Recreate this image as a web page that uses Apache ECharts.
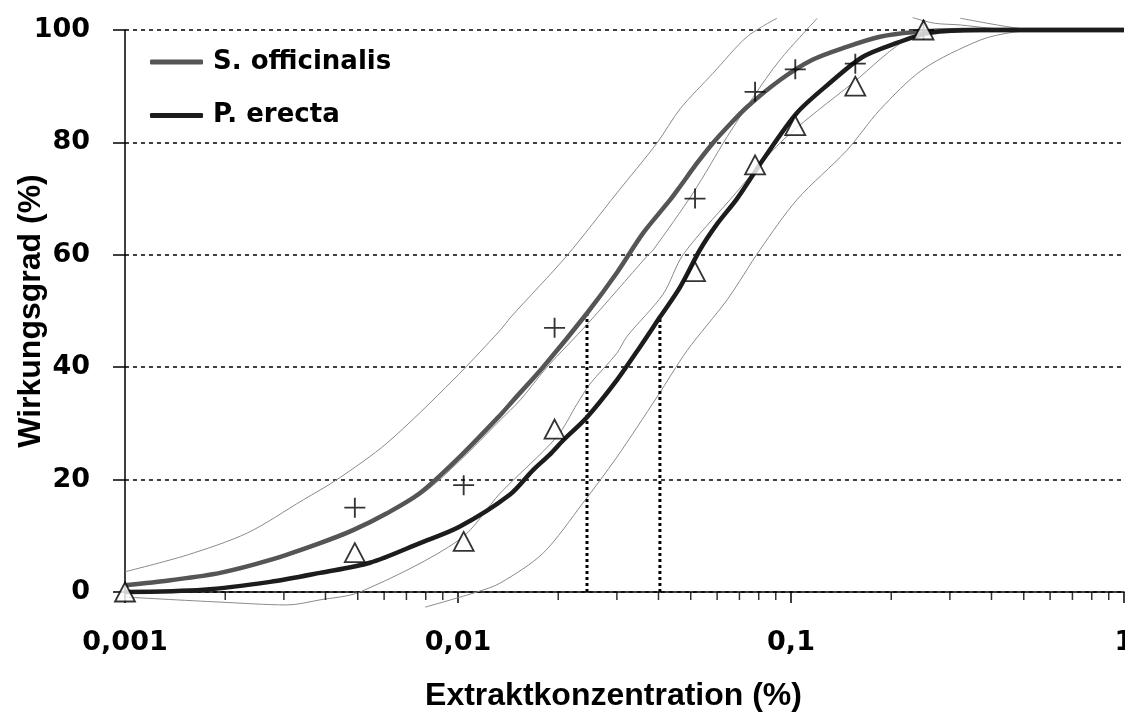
<!DOCTYPE html>
<html>
<head>
<meta charset="utf-8">
<script src="https://cdn.jsdelivr.net/npm/echarts@6/dist/echarts.min.js"></script>
<style>
  html, body { margin: 0; padding: 0; background: #fff; }
  #chart { width: 1125px; height: 713px; }
</style>
</head>
<body>
<div id="chart"></div>
<script>
// 拟合曲线 [浓度 %, 效应 %]
var sOffCurve = [[0.001,1.2],[0.00137,2.1],[0.00193,3.4],[0.00273,5.7],[0.00385,8.7],[0.00484,11],[0.00612,14],[0.00769,17.6],[0.0101,24],[0.0134,31.5],[0.0146,34],[0.018,40],[0.0244,49.6],[0.03,56.8],[0.036,63.9],[0.0434,69.8],[0.0465,72.2],[0.0522,76.3],[0.0583,79.9],[0.0643,82.7],[0.0738,86.3],[0.0927,91.1],[0.116,94.7],[0.147,97],[0.185,98.8],[0.232,99.6],[0.329,100],[1,100]];
var pErCurve = [[0.001,0],[0.00172,0.4],[0.00273,1.8],[0.00385,3.4],[0.00544,5.2],[0.00769,8.7],[0.0101,11.6],[0.0143,17.3],[0.0168,21.7],[0.0189,24.5],[0.0207,27],[0.0244,31.1],[0.03,37.7],[0.0352,43.6],[0.0405,49],[0.0465,54.3],[0.0533,60.9],[0.06,65.5],[0.0689,70],[0.0824,76.9],[0.104,85.2],[0.131,90.6],[0.164,95.2],[0.208,97.7],[0.261,99.5],[0.37,100],[1,100]];

// 置信区间（细线），'-' 为断开
var sOffUpper = [[0.001,3.6],[0.00154,6.6],[0.00233,10.5],[0.00343,16.4],[0.00433,20],[0.00612,26.5],[0.00966,37.7],[0.0134,46.6],[0.0144,48.9],[0.0212,59.8],[0.03,71],[0.0396,79.9],[0.0465,86],[0.0583,92.3],[0.0738,98.8],[0.0908,102.1],[0.15,'-'],[0.232,102.2],[0.27,101.2],[0.322,100.9],[0.4,100.3],[0.5,100],[1,100]];
var pErUpper = [[0.001,1.2],[0.00137,2.1],[0.00193,3.3],[0.00273,5.5],[0.00385,8.4],[0.00484,10.7],[0.00769,17.2],[0.0101,23.3],[0.0134,30.6],[0.0154,34.2],[0.0185,40],[0.0244,47.6],[0.037,59.8],[0.0386,60.9],[0.0508,71],[0.0643,81],[0.0769,88],[0.0927,94.7],[0.12,102.1],[0.2,'-'],[0.322,102.1],[0.446,100.6],[0.55,100],[1,100]];
var sOffLower = [[0.001,-0.9],[0.00193,-1.8],[0.00307,-2.3],[0.00385,-1.4],[0.00508,0],[0.0101,9.3],[0.0134,17.6],[0.0198,27.6],[0.0228,33.5],[0.0249,37],[0.03,42.5],[0.0322,45.5],[0.0413,53],[0.0474,60],[0.0656,69.8],[0.0946,80.4],[0.1535,90.6],[0.232,98.8],[0.33,99.8],[0.45,100],[1,100]];
var pErLower = [[0.00796,-2.7],[0.0114,0],[0.0134,1.6],[0.018,6.9],[0.0237,15.8],[0.03,24],[0.0396,34.7],[0.0488,43],[0.0643,52],[0.0807,60.9],[0.1042,69.8],[0.1472,78.6],[0.1849,85.8],[0.249,93],[0.3698,98.2],[0.4645,99.6],[0.6,100],[1,100]];

// 实测点
var sOffMeasured = [[0.0049,15],[0.0104,19],[0.0195,47],[0.0515,70],[0.078,89],[0.103,93],[0.156,94],[0.25,100]];
var pErMeasured = [[0.001,0],[0.0049,7],[0.0104,9],[0.0195,29],[0.0515,57],[0.078,76],[0.103,83],[0.156,90],[0.25,100]];

// EC50 辅助线
var ec50Conc = [0.0244, 0.0404];
var ec50Top = [49.6, 49];

// 坐标轴
var yTicks = [0, 20, 40, 60, 80, 100];
var minorTickValues = [];
[0.001, 0.01, 0.1].forEach(function (d) {
  for (var k = 2; k <= 9; k++) minorTickValues.push(+(d * k).toPrecision(2));
});

var chart = echarts.init(document.getElementById('chart'), null, { renderer: 'canvas' });

var thinStyle = { color: '#8a8a8a', width: 1 };
function thinLine(name, data) {
  return {
    name: name, type: 'line', data: data, symbol: 'none', clip: false,
    smooth: 0.3, connectNulls: false, silent: true, z: 2,
    lineStyle: thinStyle, itemStyle: { color: '#8a8a8a' }
  };
}

var option = {
  animation: false,
  grid: { left: 125, right: 1, top: 30, bottom: 121, outerBoundsMode: 'none' },
  legend: {
    data: ['S. officinalis', 'P. erecta'],
    orient: 'vertical',
    left: 150,
    top: 47,
    padding: 0,
    icon: 'roundRect',
    itemWidth: 53,
    itemHeight: 5,
    itemGap: 23.5,
    textStyle: {
      fontFamily: 'DejaVu Sans',
      fontWeight: 'bold',
      fontSize: 26,
      lineHeight: 30,
      color: '#000',
      padding: [0, 0, 0, 5]
    }
  },
  xAxis: {
    type: 'log',
    logBase: 10,
    min: 0.001,
    max: 1,
    name: 'Extraktkonzentration (%)',
    nameLocation: 'middle',
    nameGap: 88,
    nameMoveOverlap: false,
    nameTextStyle: {
      fontFamily: 'Liberation Sans', fontWeight: 'bold', fontSize: 32, color: '#000',
      padding: [0, 22, 0, 0]
    },
    axisLine: { lineStyle: { color: '#000', width: 1.5 } },
    axisTick: { inside: false, length: 11, lineStyle: { color: '#000', width: 1.5 } },
    axisLabel: {
      margin: 37,
      fontFamily: 'DejaVu Sans', fontWeight: 'bold', fontSize: 27, color: '#000',
      formatter: function (v) { return String(+(+v).toPrecision(3)).replace('.', ','); }
    },
    splitLine: { show: false }
  },
  yAxis: {
    type: 'value',
    min: 0,
    max: 100,
    interval: 20,
    name: 'Wirkungsgrad (%)',
    nameLocation: 'middle',
    nameGap: 78,
    nameMoveOverlap: false,
    nameTextStyle: { fontFamily: 'Liberation Sans', fontWeight: 'bold', fontSize: 32, color: '#000' },
    axisLine: { show: true, lineStyle: { color: '#000', width: 1.5 } },
    axisTick: { show: true, inside: false, length: 12, lineStyle: { color: '#000', width: 1.5 } },
    axisLabel: {
      margin: 35,
      fontFamily: 'DejaVu Sans', fontWeight: 'bold', fontSize: 27, color: '#000',
      formatter: function (v) { return yTicks.indexOf(v) >= 0 ? String(v) : ''; }
    },
    splitLine: { show: true, lineStyle: { color: '#000', width: 1.5, type: [4, 4] } }
  },
  series: [
    thinLine('S. officinalis obere Grenze', sOffUpper),
    thinLine('P. erecta obere Grenze', pErUpper),
    thinLine('S. officinalis untere Grenze', sOffLower),
    thinLine('P. erecta untere Grenze', pErLower),
    {
      name: 'EC50 S. officinalis', type: 'line', symbol: 'none', silent: true, z: 3,
      data: [[ec50Conc[0], 0], [ec50Conc[0], ec50Top[0]]],
      lineStyle: { color: '#000', width: 3, type: [3, 3] }
    },
    {
      name: 'EC50 P. erecta', type: 'line', symbol: 'none', silent: true, z: 3,
      data: [[ec50Conc[1], 0], [ec50Conc[1], ec50Top[1]]],
      lineStyle: { color: '#000', width: 3, type: [3, 3] }
    },
    {
      name: 'S. officinalis', type: 'line', data: sOffCurve, symbol: 'none', clip: false, z: 4,
      smooth: 0.3, color: '#555555',
      lineStyle: { color: '#555555', width: 4.5 },
      itemStyle: { color: '#555555' }
    },
    {
      name: 'P. erecta', type: 'line', data: pErCurve, symbol: 'none', clip: false, z: 5,
      smooth: 0.3, color: '#1c1c1c',
      lineStyle: { color: '#1c1c1c', width: 4.5 },
      itemStyle: { color: '#1c1c1c' }
    },
    {
      name: 'S. officinalis Messwerte', type: 'scatter', data: sOffMeasured, clip: false, z: 6,
      symbol: 'path://M10,0V20M0,10H20',
      symbolSize: [21, 20],
      itemStyle: { color: 'transparent', borderColor: '#000', borderWidth: 1.8 }
    },
    {
      name: 'P. erecta Messwerte', type: 'scatter', data: pErMeasured, clip: false, z: 6,
      symbol: 'triangle',
      symbolSize: [20, 19],
      itemStyle: { color: '#fff', borderColor: '#000', borderWidth: 1.8 }
    },
    {
      name: 'minor ticks', type: 'scatter', silent: true, clip: false, z: 7,
      data: minorTickValues.map(function (v) { return [v, 0]; }),
      symbol: 'rect',
      symbolSize: [1.5, 8],
      symbolOffset: [0, 4],
      itemStyle: { color: '#000' }
    }
  ]
};

chart.setOption(option);
</script>
</body>
</html>
